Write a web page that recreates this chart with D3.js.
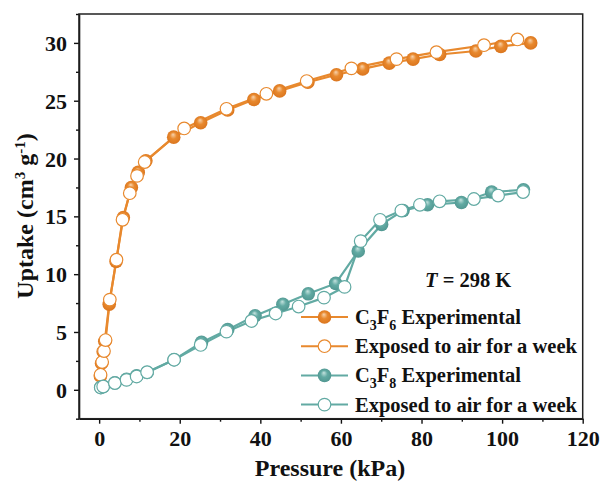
<!DOCTYPE html>
<html>
<head>
<meta charset="utf-8">
<script src="https://cdn.jsdelivr.net/npm/d3@7"></script>
<style>
body { margin: 0; background: #fff; }
svg text { font-family: "Liberation Serif", "Times New Roman", serif; font-weight: bold; fill: #111; }
</style>
</head>
<body>
<div id="chart"></div>
<script>
// pressure (kPa), uptake (cm3/g)
var c3f6Exp = [[0.3, 1.2], [0.6, 2.3], [1.0, 3.3], [1.4, 4.2], [2.5, 7.4], [4.2, 11.1],
    [6.0, 14.9], [8.0, 17.5], [9.7, 18.8], [11.6, 19.8], [18.5, 21.85], [25.2, 23.1],
    [31.9, 24.2], [38.4, 25.1], [44.8, 25.85], [51.8, 26.6], [58.9, 27.25], [65.4, 27.75],
    [72.0, 28.25], [77.9, 28.6], [84.5, 29.0], [93.5, 29.3], [99.7, 29.7], [107.1, 30.0]];

var c3f6Air = [[0.35, 1.3], [0.75, 2.4], [1.2, 3.35], [1.6, 4.3], [2.65, 7.8], [4.3, 11.25],
    [5.8, 14.7], [7.6, 17.0], [9.4, 18.5], [11.3, 19.7], [21.1, 22.6], [31.6, 24.3],
    [41.5, 25.6], [51.5, 26.7], [62.6, 27.8], [73.8, 28.6], [83.7, 29.2], [95.5, 29.8],
    [103.8, 30.3]];

var c3f8Exp = [[0.4, 0.2], [1.0, 0.3], [3.9, 0.6], [6.8, 0.9], [9.3, 1.2], [11.9, 1.5],
    [18.6, 2.6], [25.4, 4.1], [31.9, 5.2], [38.7, 6.4], [45.6, 7.4], [51.9, 8.3],
    [58.7, 9.2], [64.3, 12.0], [70.1, 14.3], [75.4, 15.5], [81.5, 16.0], [89.9, 16.2],
    [97.4, 17.1], [105.3, 17.3]];

var c3f8Air = [[0.4, 0.2], [1.0, 0.28], [3.9, 0.58], [6.8, 0.86], [9.3, 1.15], [11.9, 1.52],
    [18.6, 2.6], [25.2, 3.88], [31.6, 5.03], [37.8, 5.95], [43.8, 6.6], [49.5, 7.2],
    [55.8, 7.97], [60.9, 8.9], [64.9, 12.86], [69.7, 14.7], [75.0, 15.5], [79.6, 16.0],
    [84.5, 16.3], [93.0, 16.5], [99.0, 16.8], [105.2, 17.1]];

var xTicks = [0, 20, 40, 60, 80, 100, 120];
var yTicks = [0, 5, 10, 15, 20, 25, 30];

var width = 603,
    height = 486;

var orange = "#E8892E",
    teal = "#62AAA3";

var x = d3.scaleLinear().domain([-5, 120]).range([79, 582.7]);
var y = d3.scaleLinear().domain([-2.5, 32.5]).range([418.7, 14]);

var svg = d3.select("#chart")
    .append("svg")
    .attr("width", width)
    .attr("height", height);

// sphere-like gradients for the filled markers
var defs = svg.append("defs");
function ball(id, light, mid, dark) {
    var g = defs.append("radialGradient")
        .attr("id", id)
        .attr("cx", "50%").attr("cy", "50%").attr("r", "55%")
        .attr("fx", "45%").attr("fy", "30%");
    g.append("stop").attr("offset", "0%").attr("stop-color", light);
    g.append("stop").attr("offset", "45%").attr("stop-color", mid);
    g.append("stop").attr("offset", "100%").attr("stop-color", dark);
}
ball("ballOrange", "#F8D3AC", orange, "#D9731C");
ball("ballTeal", "#C5E3DF", teal, "#4F958F");

// axes
var xAxis = d3.axisBottom(x).tickValues(xTicks).tickSize(5).tickSizeOuter(0).tickPadding(4);
var xMinor = d3.axisBottom(x).tickValues([10, 30, 50, 70, 90, 110]).tickSize(3).tickFormat("");
var yAxis = d3.axisLeft(y).tickValues(yTicks).tickSize(5).tickSizeOuter(0).tickPadding(7);
var yMinor = d3.axisLeft(y).tickValues([-2.5, 2.5, 7.5, 12.5, 17.5, 22.5, 27.5, 32.5]).tickSize(3).tickFormat("");

var gx = svg.append("g").attr("transform", "translate(0," + y.range()[0] + ")").call(xAxis);
svg.append("g").attr("transform", "translate(0," + y.range()[0] + ")").call(xMinor)
    .select(".domain").remove();
var gy = svg.append("g").attr("transform", "translate(" + x.range()[0] + ",0)").call(yAxis);
svg.append("g").attr("transform", "translate(" + x.range()[0] + ",0)").call(yMinor)
    .select(".domain").remove();

svg.selectAll(".tick line").attr("stroke", "#111").attr("stroke-width", 1.4);
svg.selectAll(".domain").attr("stroke", "#111").attr("stroke-width", 1.6);
gx.selectAll("text").style("font-size", "22px").attr("dy", "0.85em");
gy.selectAll("text").style("font-size", "22px").attr("dy", "0.34em");

// frame
svg.append("rect")
    .attr("x", x.range()[0])
    .attr("y", y.range()[1])
    .attr("width", x.range()[1] - x.range()[0])
    .attr("height", y.range()[0] - y.range()[1])
    .attr("fill", "none")
    .attr("stroke", "#222")
    .attr("stroke-width", 1.5);

// axis titles
svg.append("text")
    .attr("x", 330)
    .attr("y", 476)
    .attr("text-anchor", "middle")
    .style("font-size", "24px")
    .text("Pressure (kPa)");

var yt = svg.append("text")
    .attr("transform", "translate(33,216) rotate(-90)")
    .attr("text-anchor", "middle")
    .style("font-size", "24px");
yt.append("tspan").text("Uptake (cm");
yt.append("tspan").attr("baseline-shift", "super").style("font-size", "15px").text("3");
yt.append("tspan").text(" g");
yt.append("tspan").attr("baseline-shift", "super").style("font-size", "15px").text("-1");
yt.append("tspan").text(")");

var line = d3.line()
    .x(function (d) { return x(d[0]); })
    .y(function (d) { return y(d[1]); });

var plot = svg.append("g");

function drawGas(exp, air, color, grad) {
    plot.append("path")
        .datum(exp)
        .attr("d", line)
        .attr("fill", "none")
        .attr("stroke", color)
        .attr("stroke-width", 2.2);
    plot.append("path")
        .datum(air)
        .attr("d", line)
        .attr("fill", "none")
        .attr("stroke", color)
        .attr("stroke-width", 2.2);
    plot.selectAll(null)
        .data(exp)
        .enter().append("circle")
        .attr("cx", function (d) { return x(d[0]); })
        .attr("cy", function (d) { return y(d[1]); })
        .attr("r", 6.8)
        .attr("fill", "url(#" + grad + ")");
    plot.selectAll(null)
        .data(air)
        .enter().append("circle")
        .attr("cx", function (d) { return x(d[0]); })
        .attr("cy", function (d) { return y(d[1]); })
        .attr("r", 6.3)
        .attr("fill", "#fff")
        .attr("stroke", color)
        .attr("stroke-width", 1.2);
}

drawGas(c3f6Exp, c3f6Air, orange, "ballOrange");
drawGas(c3f8Exp, c3f8Air, teal, "ballTeal");

// temperature note
var tnote = svg.append("text")
    .attr("x", 425)
    .attr("y", 287)
    .style("font-size", "20.5px");
tnote.append("tspan").style("font-style", "italic").text("T");
tnote.append("tspan").text(" = 298 K");

// legend
var legendRows = [
    {gas: "3", sub2: "6", text: " Experimental", color: orange, filled: true, grad: "ballOrange"},
    {text: "Exposed to air for a week", color: orange, filled: false},
    {gas: "3", sub2: "8", text: " Experimental", color: teal, filled: true, grad: "ballTeal"},
    {text: "Exposed to air for a week", color: teal, filled: false}
];

var legend = svg.append("g");
var row = legend.selectAll("g")
    .data(legendRows)
    .enter().append("g")
    .attr("transform", function (d, i) { return "translate(0," + (317 + i * 29.2) + ")"; });

row.append("line")
    .attr("x1", 301).attr("x2", 348)
    .attr("stroke", function (d) { return d.color; })
    .attr("stroke-width", 2);

row.append("circle")
    .attr("cx", 324.5)
    .attr("r", function (d) { return d.filled ? 6.8 : 6.3; })
    .attr("fill", function (d) { return d.filled ? "url(#" + d.grad + ")" : "#fff"; })
    .attr("stroke", function (d) { return d.filled ? "none" : d.color; })
    .attr("stroke-width", 1.2);

row.each(function (d) {
    var t = d3.select(this).append("text")
        .attr("x", 355)
        .attr("y", 7)
        .style("font-size", "20.5px");
    if (d.gas) {
        t.append("tspan").text("C");
        t.append("tspan").attr("dy", 6).style("font-size", "14px").text(d.gas);
        t.append("tspan").attr("dy", -6).text("F");
        t.append("tspan").attr("dy", 6).style("font-size", "14px").text(d.sub2);
        t.append("tspan").attr("dy", -6).text(d.text);
    } else {
        t.text(d.text);
    }
});
</script>
</body>
</html>
